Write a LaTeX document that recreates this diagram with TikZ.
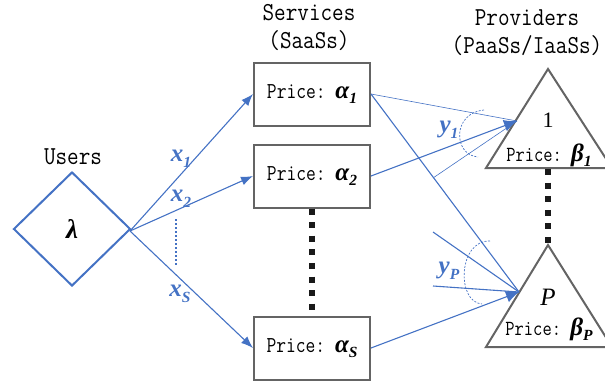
\documentclass[tikz,border=0pt]{standalone}
\usepackage{fontspec}
\usepackage{graphicx}
\usetikzlibrary{arrows.meta,shapes.geometric}
\newfontfamily\symfont{Liberation Serif}
\definecolor{fblue}{RGB}{68,114,196}
\definecolor{bgray}{RGB}{100,100,100}
% bold italic variable with a lowered subscript
\newcommand\bvar[2]{{\symfont\bfseries\itshape #1\lower0.22em\hbox{\fontsize{0.62em}{0.7em}\selectfont #2}}}
\newcommand\pvar[2]{{\fontsize{25}{27}\selectfont\bvar{#1}{#2}}}
\newcommand\tallt[2]{\scalebox{1}[#1]{#2}}
\begin{document}
\begin{tikzpicture}[x=1pt,y=-1pt,
  hdr/.style={font=\fontsize{22.5}{27}\selectfont\ttfamily, align=center, inner sep=0pt},
  svc/.style={draw=bgray, line width=2pt, minimum width=116pt, minimum height=63pt,
              font=\fontsize{19}{22}\selectfont\ttfamily, inner sep=0pt},
  tri/.style={draw=bgray, line width=2pt, line join=miter},
  ptext/.style={font=\fontsize{18}{20}\selectfont\ttfamily, inner sep=0pt},
  flow/.style={fblue, line width=1.1pt},
  thinflow/.style={fblue, line width=0.6pt},
  tipa/.style={-{Latex[length=12pt,width=9pt]}},
  tipb/.style={-{Latex[length=13pt,width=12pt]}},
  lbl/.style={text=fblue, font=\fontsize{25}{27}\selectfont, inner sep=0pt},
  bigdots/.style={line width=6pt, dash pattern=on 6pt off 7.6pt, black!90},
  fan/.style={fblue, line width=0.7pt, dash pattern=on 2pt off 1.5pt}]
\useasboundingbox (0,0) rectangle (605,381);

% column headers
\node[hdr] (hu) at (73,157) {\tallt{1.15}{Users}};
\node[hdr] (hs) at (309,28) {\tallt{1.15}{Services}\\[1pt]\tallt{1.15}{(SaaSs)}};
\node[hdr] (hp) at (527,33) {\tallt{1.15}{Providers}\\[1pt]\tallt{1.15}{(PaaSs/IaaSs)}};

% users
\node[diamond, draw=fblue, line width=2pt, minimum width=117pt, minimum height=114pt,
      inner sep=0pt, font=\fontsize{27}{29}\selectfont] (users) at (72,229)
      {{\symfont\bfseries\itshape λ}};

% services
\node[svc] (s1) at (312,94) {\tallt{1.2}{Price:} \pvar{α}{1}};
\node[svc] (s2) at (312,176) {\tallt{1.2}{Price:} \pvar{α}{2}};
\node[svc] (sS) at (312,348) {\tallt{1.2}{Price:} \pvar{α}{S}};
\draw[bigdots] (s2.south) -- (sS.north);

% providers
\coordinate (a1) at (548,69);
\coordinate (a2) at (548,245);
\draw[tri] (a1) -- (486,168) -- (612,168) -- cycle;
\draw[tri] (a2) -- (486,347) -- (612,347) -- cycle;
\node[font=\fontsize{22}{24}\selectfont\symfont, inner sep=0pt] (n1) at (548,120) {1};
\node[ptext] (pr1) at (549,155) {\tallt{1.2}{Price:} \pvar{β}{1}};
\node[font=\fontsize{25}{27}\selectfont\symfont\itshape, inner sep=0pt] (nP) at (548,297) {P};
\node[ptext] (prP) at (549,329) {\tallt{1.2}{Price:} \pvar{β}{P}};
\coordinate (b1) at (548,169);
\draw[bigdots] (b1) -- (a2);

% user demand flows
\coordinate (uo) at (130,231);
\draw[flow,tipa] (uo) -- (s1.west);
\draw[flow,tipa] (uo) -- (s2.west);
\draw[flow,tipa] (uo) -- (sS.west);
\node[lbl] (x1) at (181,159) {\bvar{x}{1}};
\node[lbl] (x2) at (181,199) {\bvar{x}{2}};
\node[lbl] (xS) at (180,294) {\bvar{x}{S}};
\coordinate (d1) at (176,219);
\coordinate (d2) at (176,266);
\draw[fblue, line width=2pt, dash pattern=on 2pt off 2pt] (d1) -- (d2);

% service-to-provider flows
\coordinate (t1) at (517,121);
\coordinate (tP) at (519,292);
\draw[thinflow] (s1.east) -- (t1);
\draw[flow] (s1.east) -- (tP);
\draw[flow,tipb] (s2.east) -- (t1);
\draw[flow,tipb] (sS.east) -- (tP);
\coordinate (e1) at (433,178);
\coordinate (e2) at (433,232);
\coordinate (e3) at (433,286);
\draw[thinflow] (e1) -- (t1);
\draw[flow] (e2) -- (tP);
\draw[flow] (e3) -- (tP);

% aggregated provider demand
\draw[fan] (484,110) .. controls (452,113) and (453,155) .. (478,157);
\draw[fan] (490,241) .. controls (458,240) and (456,302) .. (482,304);
\node[lbl] (y1) at (449,130) {\bvar{y}{1}};
\node[lbl] (yP) at (449,271) {\bvar{y}{P}};
\end{tikzpicture}
\end{document}
